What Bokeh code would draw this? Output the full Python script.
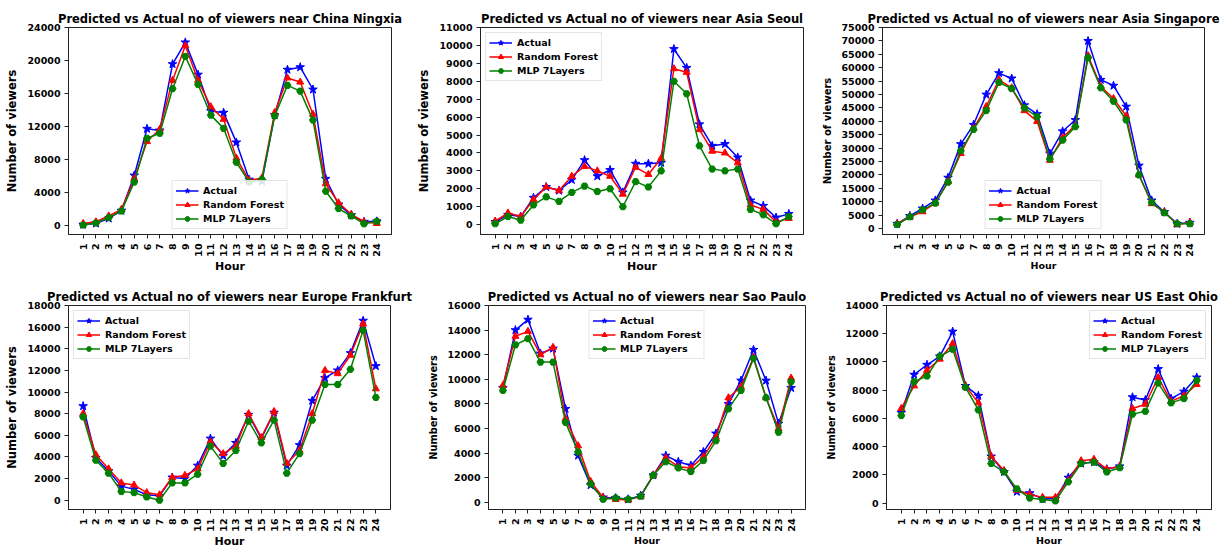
import math
from bokeh.plotting import figure
from bokeh.layouts import column, row
from bokeh.models import FixedTicker, Range1d, NumeralTickFormatter
from bokeh.embed import file_html
from bokeh.resources import INLINE

hours = [1, 2, 3, 4, 5, 6, 7, 8, 9, 10, 11, 12, 13, 14, 15, 16, 17, 18, 19, 20, 21, 22, 23, 24]
series_names = ["Actual", "Random Forest", "MLP 7Layers"]

ningxia_actual = [160, 300, 900, 1850, 6100, 11750, 11550, 19570, 22200, 18300, 13900, 13700, 10100, 5600, 5400, 13400, 18900, 19200, 16500, 5700, 2600, 1300, 500, 550]
ningxia_rf = [300, 500, 1200, 2000, 5700, 10200, 11700, 17600, 21800, 17600, 14400, 12900, 8200, 5500, 5800, 13700, 17900, 17400, 13500, 5100, 2800, 1400, 500, 300]
ningxia_mlp = [100, 350, 1000, 1800, 5300, 10600, 11200, 16600, 20500, 17100, 13400, 11800, 7700, 5300, 5600, 13300, 17000, 16300, 12800, 4200, 2100, 1200, 250, 550]
ningxia_yticks = [0, 4000, 8000, 12000, 16000, 20000, 24000]

seoul_actual = [150, 550, 450, 1500, 2100, 1900, 2500, 3600, 2700, 3050, 1800, 3400, 3400, 3450, 9800, 8750, 5600, 4400, 4500, 3750, 1350, 1050, 400, 600]
seoul_rf = [200, 650, 450, 1400, 2100, 1900, 2700, 3250, 3000, 2700, 1700, 3200, 2800, 3700, 8700, 8500, 5300, 4100, 4000, 3450, 1100, 850, 150, 350]
seoul_mlp = [50, 450, 250, 1100, 1550, 1300, 1800, 2150, 1850, 2000, 1000, 2400, 2100, 3000, 8000, 7300, 4400, 3100, 3000, 3100, 850, 550, 50, 450]
seoul_yticks = [0, 1000, 2000, 3000, 4000, 5000, 6000, 7000, 8000, 9000, 10000, 11000]

singapore_actual = [1800, 4700, 7500, 10500, 19000, 31500, 38700, 50000, 58000, 56000, 46000, 42700, 28000, 36300, 40500, 70000, 55500, 53300, 45500, 23500, 10500, 6200, 1800, 2200]
singapore_rf = [1800, 4400, 6300, 9500, 17500, 28000, 37300, 45500, 55500, 52500, 44000, 40000, 25500, 34000, 38500, 64500, 53000, 48500, 42000, 20000, 9300, 6200, 1500, 2300]
singapore_mlp = [1500, 4400, 7000, 9500, 17300, 29000, 37000, 44000, 54500, 52200, 45000, 41700, 26000, 33000, 38000, 63700, 52500, 47500, 40500, 20000, 9800, 5900, 1800, 1800]
singapore_yticks = [0, 5000, 10000, 15000, 20000, 25000, 30000, 35000, 40000, 45000, 50000, 55000, 60000, 65000, 70000, 75000]

frankfurt_actual = [8700, 3900, 2700, 1300, 1000, 500, 400, 2100, 2000, 3200, 5700, 4100, 5300, 7900, 5700, 8100, 3200, 5100, 9200, 11300, 12000, 13600, 16600, 12400]
frankfurt_rf = [8000, 4200, 2900, 1600, 1400, 700, 500, 2100, 2300, 2900, 5400, 4300, 5000, 8000, 5800, 8200, 3400, 4600, 8000, 12000, 11700, 13400, 16300, 10300]
frankfurt_mlp = [7700, 3700, 2500, 800, 700, 300, 0, 1600, 1600, 2400, 5000, 3400, 4600, 7300, 5300, 7400, 2500, 4300, 7400, 10700, 10700, 12100, 15700, 9500]
frankfurt_yticks = [0, 2000, 4000, 6000, 8000, 10000, 12000, 14000, 16000, 18000]

saopaulo_actual = [9300, 14000, 14850, 12100, 12500, 7600, 3800, 1400, 400, 350, 250, 550, 2200, 3800, 3300, 3000, 4100, 5600, 8000, 9900, 12400, 9900, 6400, 9300]
saopaulo_rf = [9500, 13500, 13900, 12000, 12600, 6800, 4600, 1700, 400, 250, 200, 500, 2200, 3600, 2900, 2800, 3700, 5300, 8500, 9400, 11800, 8500, 6000, 10100]
saopaulo_mlp = [9100, 12800, 13300, 11400, 11400, 6500, 4100, 1500, 250, 350, 250, 500, 2200, 3300, 2800, 2500, 3400, 5000, 7600, 9100, 11700, 8500, 5700, 9800]
saopaulo_yticks = [0, 2000, 4000, 6000, 8000, 10000, 12000, 14000, 16000]

ohio_actual = [6400, 9100, 9800, 10400, 12150, 8300, 7600, 3300, 2200, 800, 700, 300, 300, 1800, 2800, 2900, 2400, 2600, 7500, 7300, 9500, 7400, 7900, 8900]
ohio_rf = [6700, 8300, 9400, 10200, 11300, 8300, 7100, 3300, 2300, 900, 600, 400, 400, 1600, 3000, 3100, 2400, 2600, 6700, 7000, 8900, 7200, 7600, 8400]
ohio_mlp = [6200, 8600, 9000, 10400, 10900, 8200, 6600, 2800, 2200, 1000, 350, 250, 150, 1500, 2800, 2900, 2200, 2500, 6300, 6500, 8500, 7100, 7400, 8700]
ohio_yticks = [0, 2000, 4000, 6000, 8000, 10000, 12000, 14000]

FONT = "DejaVu Sans"


def make_panel(title, actual, rf, mlp, yticks, ymin, w, h, bl, br, bt, bb,
               legend_loc, title_fs="11.5px", ylab_fs="11.5px", xlab_fs="11px"):
    p = figure(width=w, height=h, output_backend="svg", toolbar_location=None,
               x_range=Range1d(-0.15, 25.15), y_range=Range1d(ymin, yticks[-1]),
               min_border_left=bl, min_border_right=br,
               min_border_top=bt, min_border_bottom=bb)
    p.title.text = title
    p.title.align = "center"
    p.title.text_font = FONT
    p.title.text_font_size = title_fs
    p.title.text_font_style = "bold"
    p.title.text_color = "black"
    p.title.standoff = 3

    styles = [
        (actual, "#0000ff", "star", 9),
        (rf, "#ff0000", "triangle", 7),
        (mlp, "#008000", "hex", 7),
    ]
    for (vals, col, mk, sz), name in zip(styles, series_names):
        p.line(hours, vals, line_color=col, line_width=1.5, legend_label=name)
        p.scatter(hours, vals, marker=mk, size=sz, fill_color=col, line_color=col,
                  legend_label=name)

    p.xgrid.visible = False
    p.ygrid.visible = False
    p.outline_line_color = "#222222"
    p.outline_line_width = 1
    p.background_fill_color = "white"
    p.border_fill_color = "white"

    p.xaxis.ticker = FixedTicker(ticks=hours)
    p.xaxis.major_label_orientation = math.pi / 2
    p.yaxis.ticker = FixedTicker(ticks=yticks)
    p.yaxis.formatter = NumeralTickFormatter(format="0")
    for ax in (p.xaxis[0], p.yaxis[0]):
        ax.axis_line_color = "#222222"
        ax.major_tick_line_color = "#222222"
        ax.major_tick_out = 4
        ax.major_tick_in = 0
        ax.minor_tick_out = 0
        ax.minor_tick_in = 0
        ax.major_label_text_font = FONT
        ax.major_label_text_font_style = "bold"
        ax.major_label_text_font_size = "9.5px"
        ax.major_label_text_color = "black"
        ax.axis_label_text_font = FONT
        ax.axis_label_text_font_style = "bold"
        ax.axis_label_text_color = "black"
    p.yaxis.major_label_standoff = 4
    p.xaxis.major_label_standoff = 5
    p.xaxis.axis_label = "Hour"
    p.xaxis.axis_label_text_font_size = xlab_fs
    p.xaxis.axis_label_standoff = 0
    p.yaxis.axis_label = "Number of viewers"
    p.yaxis.axis_label_text_font_size = ylab_fs
    p.yaxis.axis_label_standoff = 5

    lg = p.legend[0]
    lg.location = legend_loc
    lg.margin = 5
    lg.padding = 3
    lg.spacing = 1
    lg.glyph_width = 23
    lg.glyph_height = 13
    lg.label_height = 13
    lg.label_standoff = 5
    lg.label_text_font = FONT
    lg.label_text_font_style = "bold"
    lg.label_text_font_size = "9.5px"
    lg.label_text_color = "black"
    lg.border_line_color = "#cccccc"
    lg.border_line_width = 1
    lg.background_fill_color = "white"
    lg.background_fill_alpha = 0.85
    return p


p1 = make_panel("Predicted vs Actual no of viewers near China Ningxia",
                ningxia_actual, ningxia_rf, ningxia_mlp, ningxia_yticks, -1040,
                410, 275, 68, 19, 24, 41, "bottom_center")
p2 = make_panel("Predicted vs Actual no of viewers near Asia Seoul",
                seoul_actual, seoul_rf, seoul_mlp, seoul_yticks, -550,
                406, 275, 70, 13, 24, 41, "top_left")
p3 = make_panel("Predicted vs Actual no of viewers near Asia Singapore",
                singapore_actual, singapore_rf, singapore_mlp, singapore_yticks, -2200,
                409, 275, 66, 21, 27, 38, "bottom_center",
                ylab_fs="10px", xlab_fs="9.5px")
p4 = make_panel("Predicted vs Actual no of viewers near Europe Frankfurt",
                frankfurt_actual, frankfurt_rf, frankfurt_mlp, frankfurt_yticks, -860,
                414, 275, 68, 24, 27, 37, "top_left")
p5 = make_panel("Predicted vs Actual no of viewers near Sao Paulo",
                saopaulo_actual, saopaulo_rf, saopaulo_mlp, saopaulo_yticks, -580,
                402, 275, 74, 11, 30, 34, "top_center",
                ylab_fs="9.8px", xlab_fs="9.5px")
p6 = make_panel("Predicted vs Actual no of viewers near US East Ohio",
                ohio_actual, ohio_rf, ohio_mlp, ohio_yticks, -460,
                409, 275, 70, 14, 30, 35, "top_right",
                ylab_fs="9.8px", xlab_fs="9.5px")

layout = column(row(p1, p2, p3), row(p4, p5, p6))
open("out.html", "w").write(file_html(layout, INLINE))
